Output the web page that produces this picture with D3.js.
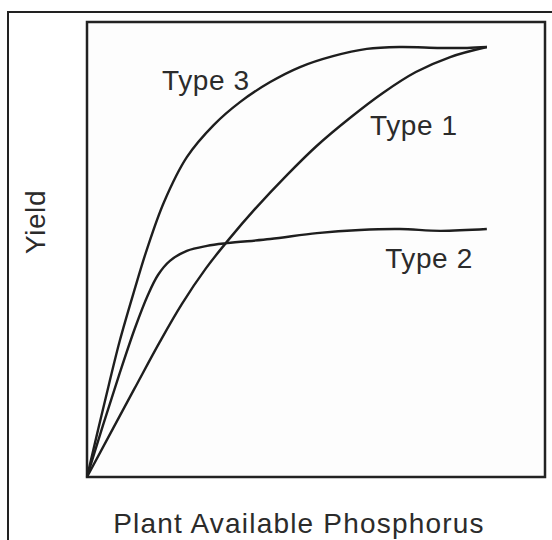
<!DOCTYPE html>
<html>
<head>
<meta charset="utf-8">
<script src="https://cdn.jsdelivr.net/npm/d3@7"></script>
<style>
  html, body { margin: 0; padding: 0; background: #fff; }
  svg { display: block; }
  .lbl { font-family: "Liberation Sans", Arial, sans-serif; font-size: 28px; fill: #2b2b2b; letter-spacing: 0.6px; }
</style>
</head>
<body>
<svg id="chart" width="552" height="540"></svg>
<script>
// relative units, 0-100 on both axes (no ticks in the original)
const type1X = [0, 10.3, 15.9, 20.7, 26.0, 31.2, 36.5, 43.7, 50.2, 57.4, 64.6, 71.8, 79.3, 87.3];
const type1Y = [0, 19.3, 29.7, 38.0, 45.9, 52.5, 58.7, 66.4, 72.8, 78.9, 84.4, 89.0, 92.3, 94.5];

const type2X = [0, 3.5, 7.0, 10.5, 13.3, 15.5, 18.1, 21.8, 26.2, 30.6, 40.0, 50.2, 59.6, 68.3, 77.1, 87.3];
const type2Y = [0, 11.4, 22.4, 32.8, 40.0, 44.4, 47.5, 49.7, 50.8, 51.4, 52.3, 53.6, 54.3, 54.5, 54.1, 54.5];

const type3X = [0, 2.4, 4.8, 7.2, 10.3, 13.1, 16.8, 21.8, 27.7, 33.4, 40.0, 46.5, 53.7, 61.1, 68.3, 77.1, 83.0, 87.3];
const type3Y = [0, 10.3, 20.4, 30.1, 40.9, 50.1, 60.4, 70.3, 77.4, 82.4, 86.8, 90.1, 92.5, 94.1, 94.5, 94.3, 94.3, 94.5];

const seriesNames = ['Type 1', 'Type 2', 'Type 3'];
// label anchor in data units (left end, baseline)
const labelX = [61.8, 65.1, 16.4];
const labelY = [75.2, 45.9, 85.1];

const xAxisTitle = 'Plant Available Phosphorus';
const yAxisTitle = 'Yield';

const svg = d3.select('#chart');

const x = d3.scaleLinear().domain([0, 100]).range([87, 545]);
const y = d3.scaleLinear().domain([0, 100]).range([477, 22]);

// outer frame (runs off the right and bottom edge)
svg.append('rect')
    .attr('x', 8).attr('y', 12)
    .attr('width', 700).attr('height', 700)
    .attr('fill', 'none')
    .attr('stroke', '#222')
    .attr('stroke-width', 2);

// plot box
svg.append('rect')
    .attr('x', x(0)).attr('y', y(100))
    .attr('width', x(100) - x(0))
    .attr('height', y(0) - y(100))
    .attr('fill', '#fdfdfd')
    .attr('stroke', '#222')
    .attr('stroke-width', 2.5);

const series = [
    { xs: type1X, ys: type1Y },
    { xs: type2X, ys: type2Y },
    { xs: type3X, ys: type3Y }
];

const line = d3.line()
    .x(d => x(d[0]))
    .y(d => y(d[1]))
    .curve(d3.curveCatmullRom.alpha(0.5));

series.forEach(s => {
    svg.append('path')
        .datum(s.xs.map((v, i) => [v, s.ys[i]]))
        .attr('d', line)
        .attr('fill', 'none')
        .attr('stroke', '#1e1e1e')
        .attr('stroke-width', 2.4)
        .attr('stroke-linejoin', 'round');
});

seriesNames.forEach((name, i) => {
    svg.append('text')
        .attr('class', 'lbl')
        .attr('x', x(labelX[i]))
        .attr('y', y(labelY[i]))
        .text(name);
});

svg.append('text')
    .attr('class', 'lbl')
    .attr('x', 299)
    .attr('y', 533)
    .attr('text-anchor', 'middle')
    .style('letter-spacing', '1.2px')
    .text(xAxisTitle);

svg.append('text')
    .attr('class', 'lbl')
    .attr('transform', 'translate(45,222) rotate(-90)')
    .attr('text-anchor', 'middle')
    .text(yAxisTitle);
</script>
</body>
</html>
